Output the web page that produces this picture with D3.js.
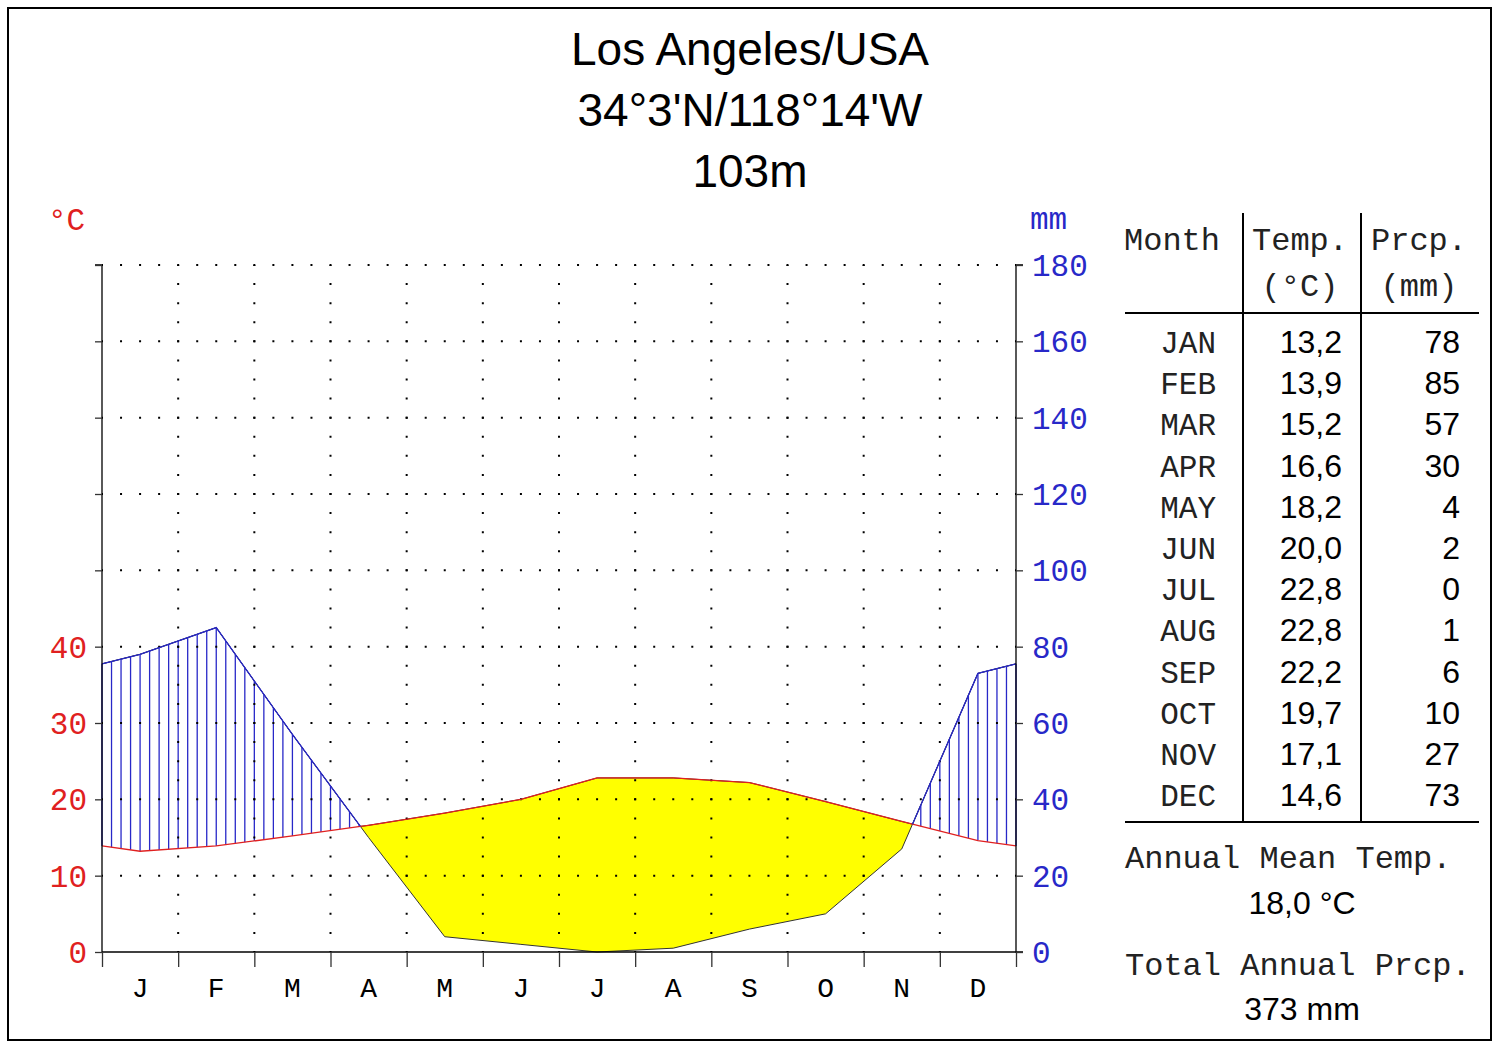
<!DOCTYPE html>
<html>
<head>
<meta charset="utf-8">
<script src="https://cdn.jsdelivr.net/npm/d3@7"></script>
<style>
  body { margin: 0; background: #fff; }
  svg { display: block; }
  .mono { font-family: "Courier New", "Nimbus Mono PS", "FreeMono", Courier, "Liberation Mono", monospace; }
  .sans { font-family: "Liberation Sans", Arial, sans-serif; }
</style>
</head>
<body>
<svg id="screen" width="1500" height="1047"></svg>
<script>
// Data
var months = ["J", "F", "M", "A", "M", "J", "J", "A", "S", "O", "N", "D"];
var monthNames = ["JAN", "FEB", "MAR", "APR", "MAY", "JUN", "JUL", "AUG", "SEP", "OCT", "NOV", "DEC"];
var temp = [13.2, 13.9, 15.2, 16.6, 18.2, 20.0, 22.8, 22.8, 22.2, 19.7, 17.1, 14.6];
var prcp = [78, 85, 57, 30, 4, 2, 0, 1, 6, 10, 27, 73];
var tempTicks = [0, 10, 20, 30, 40];
var tempTicksAll = [0, 10, 20, 30, 40, 50, 60, 70, 80, 90];
var prcpTicks = [0, 20, 40, 60, 80, 100, 120, 140, 160, 180];
var titleLines = ["Los Angeles/USA", "34°3'N/118°14'W", "103m"];
var meanTemp = "18,0 °C";
var totalPrcp = "373 mm";

var RED = "#e02020", BLUE = "#2828c8";
var fmt = function(v){ return v.toFixed(1).replace(".", ","); };

var svg = d3.select("#screen");

// Frame
svg.append("rect").attr("x", 8).attr("y", 8).attr("width", 1483).attr("height", 1032)
  .attr("fill", "none").attr("stroke", "#000").attr("stroke-width", 2);

// Title
svg.selectAll(".title").data(titleLines).enter().append("text")
  .attr("class", "sans").attr("x", 750).attr("y", function(d, i){ return 65 + i * 61; })
  .attr("text-anchor", "middle").attr("font-size", 46).text(function(d){ return d; });

// Scales
var x = d3.scaleLinear().domain([0, 12]).range([102, 1016]);
var y = d3.scaleLinear().domain([0, 180]).range([952, 265]); // mm ; temp*2

// Build knot series: edges are mean of Dec/Jan
var edgeT = (temp[0] + temp[11]) / 2, edgeP = (prcp[0] + prcp[11]) / 2;
var knots = [{m: 0, t: edgeT, p: edgeP}];
temp.forEach(function(t, i){ knots.push({m: i + 0.5, t: t, p: prcp[i]}); });
knots.push({m: 12, t: edgeT, p: edgeP});

// Add crossing points
var pts = [];
for (var i = 0; i < knots.length; i++) {
  var a = knots[i];
  pts.push(a);
  if (i < knots.length - 1) {
    var b = knots[i + 1];
    var da = a.p - 2 * a.t, db = b.p - 2 * b.t;
    if (da * db < 0) {
      var f = da / (da - db);
      pts.push({m: a.m + f * (b.m - a.m), t: a.t + f * (b.t - a.t), p: a.p + f * (b.p - a.p)});
    }
  }
}
function interp(m, key) {
  for (var i = 0; i < knots.length - 1; i++) {
    if (m >= knots[i].m && m <= knots[i + 1].m) {
      var f = (m - knots[i].m) / (knots[i + 1].m - knots[i].m);
      return knots[i][key] + f * (knots[i + 1][key] - knots[i][key]);
    }
  }
  return knots[knots.length - 1][key];
}

// Arid area (yellow)
var arid = d3.area()
  .x(function(d){ return x(d.m); })
  .y0(function(d){ return y(d.p); })
  .y1(function(d){ return y(Math.max(d.p, 2 * d.t)); });
svg.append("path").attr("d", arid(pts)).attr("fill", "#ffff00")
  .attr("stroke", "#333").attr("stroke-width", 1);

// Humid hatching
var hatch = d3.range(0, 12 * 8 + 1).map(function(k){ return k / 8; });
svg.selectAll(".hatch").data(hatch.filter(function(m){ return interp(m, "p") > 2 * interp(m, "t"); }))
  .enter().append("line")
  .attr("x1", function(m){ return x(m); }).attr("x2", function(m){ return x(m); })
  .attr("y1", function(m){ return y(2 * interp(m, "t")); })
  .attr("y2", function(m){ return y(interp(m, "p")); })
  .attr("stroke", BLUE).attr("stroke-width", 1.3);

// Dotted grid
var hStep = (x(1) - x(0)) / 4, vStep = (y(0) - y(20)) / 4;
svg.selectAll(".hgrid").data(prcpTicks.slice(1)).enter().append("line")
  .attr("x1", x(0)).attr("x2", x(12))
  .attr("y1", function(d){ return y(d); }).attr("y2", function(d){ return y(d); })
  .attr("stroke", "#000").attr("stroke-width", 2)
  .attr("stroke-dasharray", "2 " + (hStep - 2)).attr("stroke-dashoffset", 1 - hStep);
svg.selectAll(".vgrid").data(d3.range(1, 12)).enter().append("line")
  .attr("x1", function(d){ return x(d); }).attr("x2", function(d){ return x(d); })
  .attr("y1", y(180)).attr("y2", y(0))
  .attr("stroke", "#000").attr("stroke-width", 2)
  .attr("stroke-dasharray", "2 " + (vStep - 2)).attr("stroke-dashoffset", 1);

// Lines
var tLine = d3.line().x(function(d){ return x(d.m); }).y(function(d){ return y(2 * d.t); });
svg.append("path").attr("d", tLine(pts)).attr("fill", "none").attr("stroke", RED).attr("stroke-width", 1.3);
var pLine = d3.line().defined(function(d){ return d.p >= 2 * d.t - 1e-9; })
  .x(function(d){ return x(d.m); }).y(function(d){ return y(d.p); });
svg.append("path").attr("d", pLine(pts)).attr("fill", "none").attr("stroke", BLUE).attr("stroke-width", 1.3);

// Axes
var yT = d3.scaleLinear().domain([0, 90]).range([952, 265]);
var leftAxis = svg.append("g").attr("transform", "translate(" + x(0) + ",0)")
  .call(d3.axisLeft(yT).tickValues(tempTicksAll).tickSize(7).tickFormat(""));
var rightAxis = svg.append("g").attr("transform", "translate(" + x(12) + ",0)")
  .call(d3.axisRight(y).tickValues(prcpTicks).tickSize(7).tickFormat(""));
var bottomAxis = svg.append("g").attr("transform", "translate(0," + y(0) + ")")
  .call(d3.axisBottom(x).tickValues(d3.range(0, 13)).tickSize(15).tickFormat(""));
[leftAxis, rightAxis, bottomAxis].forEach(function(g){
  g.select(".domain").attr("stroke", "#000").attr("stroke-width", 1.3);
  g.selectAll(".tick line").attr("stroke", "#333").attr("stroke-width", 1.3);
});
rightAxis.select(".domain").attr("d", "M7," + y(180) + "H0V" + y(0) + "H7");
leftAxis.select(".domain").attr("d", "M-7," + y(180) + "H0V" + y(0));
bottomAxis.select(".domain").attr("d", "M" + x(0) + ",0H" + x(12));

svg.selectAll(".tlab").data(tempTicks).enter().append("text")
  .attr("class", "mono").attr("x", 87).attr("y", function(d){ return yT(d) + 11; })
  .attr("text-anchor", "end").attr("font-size", 31).attr("fill", RED).text(function(d){ return d; });
svg.selectAll(".plab").data(prcpTicks).enter().append("text")
  .attr("class", "mono").attr("x", 1032).attr("y", function(d){ return y(d) + 11; })
  .attr("font-size", 31).attr("fill", BLUE).text(function(d){ return d; });
svg.selectAll(".mlab").data(months).enter().append("text")
  .attr("class", "mono").attr("x", function(d, i){ return x(i + 0.5); }).attr("y", 997)
  .attr("text-anchor", "middle").attr("font-size", 28).text(function(d){ return d; });
svg.append("text").attr("class", "mono").attr("x", 48).attr("y", 230)
  .attr("font-size", 31).attr("fill", RED).text("°C");
svg.append("text").attr("class", "mono").attr("x", 1030).attr("y", 229)
  .attr("font-size", 31).attr("fill", BLUE).text("mm");

// Table
var tbl = svg.append("g");
tbl.append("line").attr("x1", 1243).attr("x2", 1243).attr("y1", 213).attr("y2", 822).attr("stroke", "#000").attr("stroke-width", 2);
tbl.append("line").attr("x1", 1361).attr("x2", 1361).attr("y1", 213).attr("y2", 822).attr("stroke", "#000").attr("stroke-width", 2);
tbl.append("line").attr("x1", 1125).attr("x2", 1479).attr("y1", 313).attr("y2", 313).attr("stroke", "#000").attr("stroke-width", 2);
tbl.append("line").attr("x1", 1125).attr("x2", 1479).attr("y1", 822).attr("y2", 822).attr("stroke", "#000").attr("stroke-width", 2);
var hdr = [["Month", 1172, 250], ["Temp.", 1300, 250], ["(°C)", 1300, 296], ["Prcp.", 1419, 250], ["(mm)", 1419, 296]];
tbl.selectAll(".hdr").data(hdr).enter().append("text").attr("class", "mono")
  .attr("x", function(d){ return d[1]; }).attr("y", function(d){ return d[2]; })
  .attr("text-anchor", "middle").attr("font-size", 32).attr("fill", "#222").text(function(d){ return d[0]; });
var rows = tbl.selectAll(".row").data(monthNames).enter().append("g")
  .attr("transform", function(d, i){ return "translate(0," + (353 + i * 41.2) + ")"; });
rows.append("text").attr("class", "mono").attr("x", 1216).attr("text-anchor", "end")
  .attr("font-size", 31).attr("fill", "#222").text(function(d){ return d; });
rows.append("text").attr("class", "sans").attr("x", 1342).attr("text-anchor", "end")
  .attr("font-size", 32).text(function(d, i){ return fmt(temp[i]); });
rows.append("text").attr("class", "sans").attr("x", 1460).attr("text-anchor", "end")
  .attr("font-size", 32).text(function(d, i){ return prcp[i]; });

tbl.append("text").attr("class", "mono").attr("x", 1125).attr("y", 868)
  .attr("font-size", 32).attr("fill", "#222").text("Annual Mean Temp.");
tbl.append("text").attr("class", "sans").attr("x", 1302).attr("y", 914)
  .attr("text-anchor", "middle").attr("font-size", 32).text(meanTemp);
tbl.append("text").attr("class", "mono").attr("x", 1125).attr("y", 975)
  .attr("font-size", 32).attr("fill", "#222").text("Total Annual Prcp.");
tbl.append("text").attr("class", "sans").attr("x", 1302).attr("y", 1020)
  .attr("text-anchor", "middle").attr("font-size", 32).text(totalPrcp);
</script>
</body>
</html>
